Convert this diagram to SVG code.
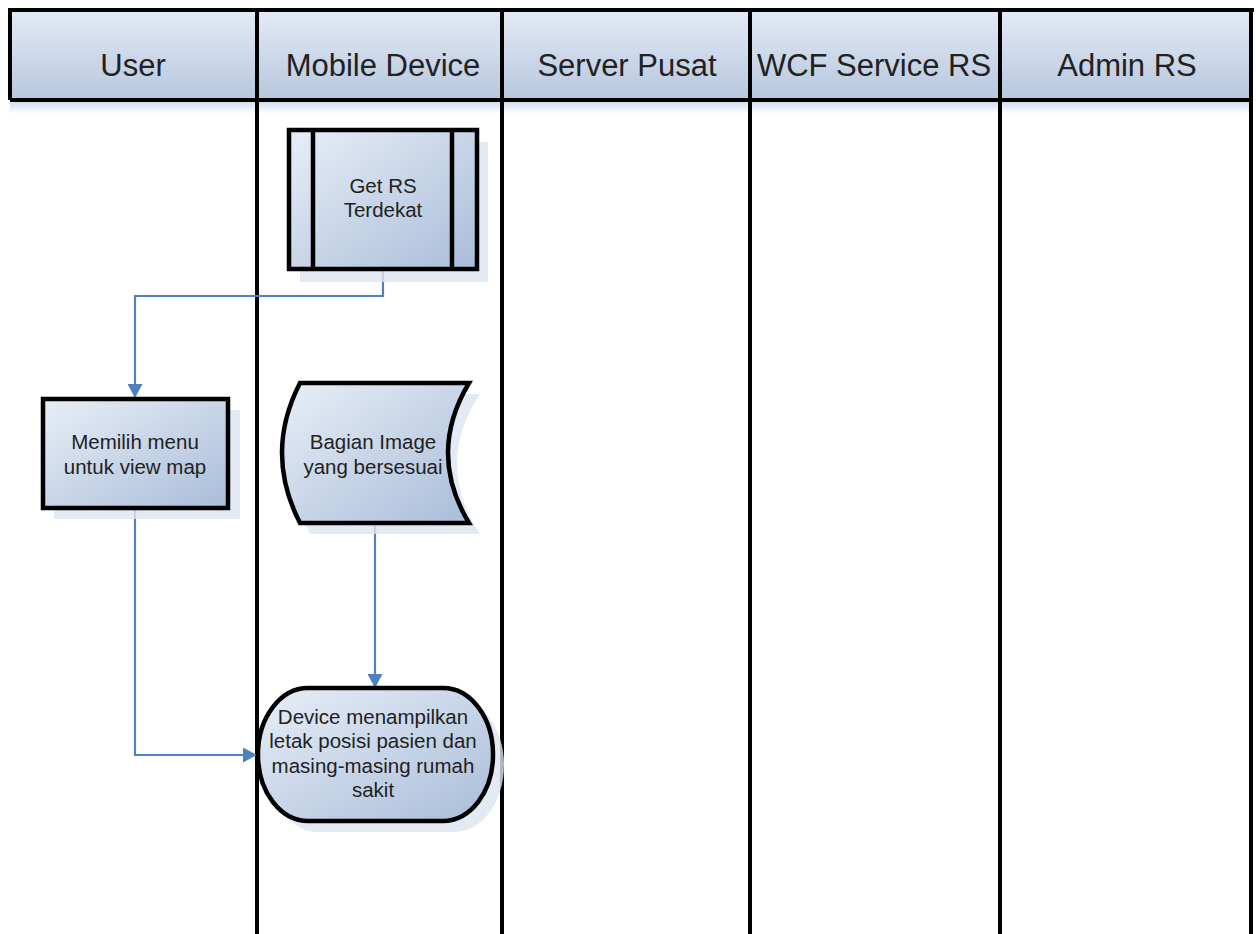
<svg xmlns="http://www.w3.org/2000/svg" width="1256" height="934" viewBox="0 0 1256 934">
<style>
.hdr{font-family:"Liberation Sans",Arial,sans-serif;font-size:31px;fill:#222;text-anchor:middle}
.lbl{font-family:"Liberation Sans",Arial,sans-serif;font-size:20.5px;fill:#222;text-anchor:middle}
.lane{stroke:#000;stroke-width:4;fill:none}
.node{fill:url(#ng);stroke:#000;stroke-width:4.5}
.shadow{fill:#dde5f1;opacity:0.8}
.conn{stroke:#4f81bd;stroke-width:2.2;fill:none}
</style>
<defs>
<linearGradient id="hg" x1="0" y1="0" x2="0" y2="1">
<stop offset="0" stop-color="#e4eaf4"/>
<stop offset="1" stop-color="#b7c7df"/>
</linearGradient>
<linearGradient id="ng" x1="0" y1="0" x2="1" y2="1">
<stop offset="0" stop-color="#e8eef7"/>
<stop offset="1" stop-color="#a9bdd9"/>
</linearGradient>
<linearGradient id="sh" x1="0" y1="0" x2="0" y2="1">
<stop offset="0" stop-color="#ccd8ea"/>
<stop offset="1" stop-color="#ffffff"/>
</linearGradient>
<marker id="arr" markerWidth="14" markerHeight="15" refX="13" refY="7.5" orient="auto" markerUnits="userSpaceOnUse" viewBox="0 0 14 15">
<path d="M0,0 L14,7.5 L0,15 Z" fill="#4f81bd"/>
</marker>
</defs>
<rect width="1256" height="934" fill="#fff"/>
<g id="lanes">
<rect x="10" y="100" width="1242" height="14" fill="url(#sh)"/>
<rect x="10" y="10" width="1242" height="90" fill="url(#hg)"/>
<line class="lane" x1="8" y1="10" x2="1254" y2="10"/>
<line class="lane" x1="10" y1="100" x2="1252" y2="100"/>
<line class="lane" x1="10" y1="10" x2="10" y2="100"/>
<line class="lane" x1="257" y1="10" x2="257" y2="934"/>
<line class="lane" x1="502" y1="10" x2="502" y2="934"/>
<line class="lane" x1="750" y1="10" x2="750" y2="934"/>
<line class="lane" x1="1000" y1="10" x2="1000" y2="934"/>
<line class="lane" x1="1251" y1="10" x2="1251" y2="934"/>
<text class="hdr" x="133" y="76">User</text>
<text class="hdr" x="383" y="76">Mobile Device</text>
<text class="hdr" x="627" y="76">Server Pusat</text>
<text class="hdr" x="874" y="76">WCF Service RS</text>
<text class="hdr" x="1127" y="76">Admin RS</text>
</g>
<g id="connectors">
<polyline class="conn" points="383,270 383,296 135,296 135,397" marker-end="url(#arr)"/>
<polyline class="conn" points="375,523 375,687" marker-end="url(#arr)"/>
<polyline class="conn" points="135,509 135,755 256,755" marker-end="url(#arr)"/>
</g>
<g id="node-get-rs">
<rect class="shadow" x="300" y="142" width="188" height="140"/>
<rect class="node" x="289" y="130" width="188" height="139"/>
<line stroke="#000" stroke-width="4.5" x1="313" y1="130" x2="313" y2="269"/>
<line stroke="#000" stroke-width="4.5" x1="452" y1="130" x2="452" y2="269"/>
<text class="lbl" x="383" y="193">Get RS</text>
<text class="lbl" x="383" y="217">Terdekat</text>
</g>
<g id="node-memilih">
<rect class="shadow" x="54" y="410" width="186" height="109"/>
<rect class="node" x="43" y="399" width="185" height="109"/>
<text class="lbl" x="135" y="449">Memilih menu</text>
<text class="lbl" x="135" y="474">untuk view map</text>
</g>
<g id="node-bagian">
<path class="shadow" d="M310,394 L480,394 Q434,464 480,534 L310,534 Q274,464 310,394 Z"/>
<path class="node" d="M300,383 L469,383 Q427,453 469,523 L300,523 Q264,453 300,383 Z"/>
<text class="lbl" x="373" y="449">Bagian Image</text>
<text class="lbl" x="373" y="474">yang bersesuai</text>
</g>
<g id="node-device">
<rect class="shadow" x="268" y="698" width="236" height="134" rx="50" ry="67"/>
<rect class="node" x="258" y="688" width="235" height="133" rx="50" ry="66"/>
<text class="lbl" x="373" y="724">Device menampilkan</text>
<text class="lbl" x="373" y="748">letak posisi pasien dan</text>
<text class="lbl" x="373" y="773">masing-masing rumah</text>
<text class="lbl" x="373" y="797">sakit</text>
</g>
</svg>
